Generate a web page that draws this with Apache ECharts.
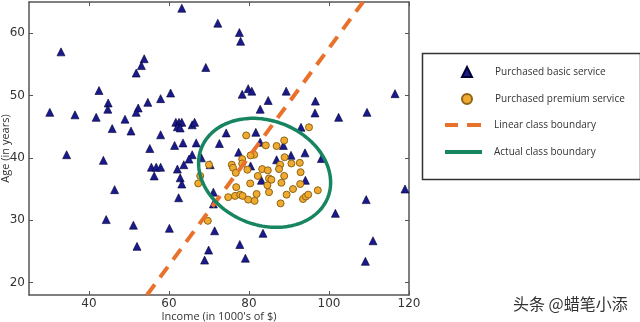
<!DOCTYPE html>
<html>
<head>
<meta charset="utf-8">
<script src="https://cdn.jsdelivr.net/npm/echarts@6/dist/echarts.min.js"></script>
<style>
  html, body { margin: 0; padding: 0; background: #fff; }
  #chart { width: 640px; height: 322px; }
</style>
</head>
<body>
<div id="chart"></div>
<script>
// Customers who bought the basic service: income (k$) and age (years)
const basicIncome = [
  63.2, 72.2, 77.6, 77.9, 33.0, 53.8, 53.1, 51.8, 69.2, 42.5,
  79.8, 80.7, 78.3, 89.3, 116.5, 60.4, 57.9, 44.8, 44.7, 52.3,
  51.8, 54.7, 84.8, 96.6, 82.8, 96.5, 30.2, 36.5, 41.8, 49.0,
  102.4, 109.5, 45.8, 50.5, 57.9, 61.7, 62.5, 63.2, 62.1, 62.8,
  65.8, 66.4, 81.7, 74.3, 93.0, 72.6, 66.8, 63.5, 61.4, 55.2,
  34.4, 65.8, 65.0, 68.1, 77.4, 82.8, 88.6, 86.9, 90.5, 94.0,
  98.1, 43.6, 63.7, 55.6, 56.8, 57.9, 62.1, 56.3, 62.8, 63.2,
  70.3, 80.4, 83.1, 94.1, 46.4, 62.4, 71.1, 71.1, 119.0, 109.3,
  44.3, 51.1, 60.1, 71.4, 83.5, 101.6, 111.0, 52.0, 69.9, 77.7,
  68.9, 79.1, 109.1
];
const basicAge = [
  64.0, 61.6, 60.1, 58.7, 57.0, 55.9, 54.8, 53.6, 54.5, 50.8,
  51.1, 50.7, 50.2, 50.7, 50.3, 50.4, 49.5, 48.8, 47.8, 48.0,
  47.3, 48.9, 49.2, 49.1, 47.8, 47.2, 47.3, 46.9, 46.5, 46.2,
  46.5, 47.3, 44.7, 44.3, 43.7, 45.7, 45.7, 45.7, 45.0, 44.8,
  45.3, 45.7, 44.1, 44.0, 44.9, 42.3, 42.4, 42.4, 42.0, 41.5,
  40.5, 40.5, 39.8, 40.0, 40.9, 42.5, 42.0, 39.7, 40.4, 40.8,
  39.9, 39.6, 38.9, 38.5, 38.5, 38.5, 38.2, 37.1, 36.8, 35.8,
  38.9, 38.7, 36.4, 36.4, 34.9, 33.6, 34.5, 32.6, 35.0, 33.3,
  30.1, 29.2, 28.7, 28.3, 27.9, 31.1, 26.7, 25.8, 25.2, 26.1,
  23.6, 23.9, 23.4
];

// Customers who bought the premium service
const premiumIncome = [
  95.0, 79.3, 88.8, 84.2, 86.9, 81.3, 80.4, 78.3, 88.9, 78.3,
  75.7, 76.0, 87.8, 90.6, 92.7, 79.6, 83.3, 84.7, 87.5, 70.0,
  76.7, 82.2, 85.0, 85.6, 88.8, 92.9, 67.3, 67.8, 80.3, 84.6,
  88.1, 92.8, 76.8, 85.0, 81.9, 89.4, 91.0, 97.2, 74.8, 76.5,
  77.8, 78.4, 79.8, 81.4, 87.9, 93.5, 94.2, 94.8, 69.7
];
const premiumAge = [
  44.9, 43.6, 42.8, 42.0, 41.9, 40.5, 40.4, 39.8, 40.1, 39.1,
  38.9, 38.4, 38.9, 39.1, 39.2, 38.1, 38.2, 38.0, 38.2, 38.9,
  37.6, 37.1, 36.7, 36.5, 37.1, 37.7, 35.9, 37.1, 35.9, 35.6,
  36.0, 35.8, 35.3, 34.5, 34.2, 34.1, 35.0, 34.8, 33.7, 33.9,
  34.1, 33.9, 33.3, 33.1, 32.7, 33.4, 33.8, 34.1, 29.9
];

// Straight decision boundary (end points in data units)
const linearIncome = [54.5, 108.5];
const linearAge = [18, 65];

// True boundary: an ellipse in data units
const ellipseCenter = [83.9, 37.6];   // income, age
const ellipseRadii = [16.6, 8.55];    // semi-axes
const ellipseTiltDeg = -7.3;

// Axis ranges and tick labels
const incomeRange = [25, 120];
const ageRange = [18, 65];
const incomeTicks = [40, 60, 80, 100, 120];
const ageTicks = [20, 30, 40, 50, 60];

const seriesNames = [
  'Purchased basic service',
  'Purchased premium service',
  'Linear class boundary',
  'Actual class boundary'
];

const zip = (xs, ys) => xs.map((x, i) => [x, ys[i]]);

const frameColor = '#555';
const dashColor = '#e8722c';
const ellipseColor = '#17855f';
const tickFont = { color: '#333', fontSize: 12, fontFamily: 'DejaVu Sans' };
const nameFont = { color: '#333', fontSize: 11, fontFamily: 'Open Sans' };
const legendFont = { color: '#333', fontSize: 10, fontFamily: 'Open Sans', padding: [0, 0, 0, 8] };

function frameAxis(extra) {
  return Object.assign({
    type: 'value',
    gridIndex: 0,
    nameMoveOverlap: false,
    axisLine: { show: true, onZero: false, lineStyle: { color: frameColor, width: 1.5 } },
    splitLine: { show: false }
  }, extra);
}

function legendEntry(item, left, top, w, h, textPad) {
  return {
    data: [item], orient: 'vertical', left: left, top: top, padding: 0,
    itemWidth: w, itemHeight: h, selectedMode: false,
    textStyle: Object.assign({}, legendFont, { padding: [0, 0, 0, textPad] })
  };
}

const chart = echarts.init(document.getElementById('chart'), null, { renderer: 'canvas' });

chart.setOption({
  animation: false,
  backgroundColor: '#fff',
  grid: {
    left: 29, top: 2, width: 380, height: 293,
    containLabel: false, outerBoundsMode: 'none'
  },
  xAxis: [
    frameAxis({
      position: 'bottom', min: incomeRange[0], max: incomeRange[1],
      axisTick: { inside: true, length: 4, customValues: incomeTicks, lineStyle: { color: frameColor, width: 1 } },
      axisLabel: Object.assign({ customValues: incomeTicks, margin: 3 }, tickFont),
      name: "Income (in 1000's of $)", nameLocation: 'middle', nameGap: 16,
      nameTextStyle: nameFont
    }),
    frameAxis({
      position: 'top', min: incomeRange[0], max: incomeRange[1],
      axisTick: { inside: true, length: 4, customValues: incomeTicks, lineStyle: { color: frameColor, width: 1 } },
      axisLabel: { show: false }
    })
  ],
  yAxis: [
    frameAxis({
      position: 'left', min: ageRange[0], max: ageRange[1],
      axisTick: { inside: true, length: 4, customValues: ageTicks, lineStyle: { color: frameColor, width: 1 } },
      axisLabel: Object.assign({ customValues: ageTicks, margin: 4 }, tickFont),
      name: 'Age (in years)', nameLocation: 'middle', nameGap: 18, nameRotate: 90,
      nameTextStyle: nameFont
    }),
    frameAxis({
      position: 'right', min: ageRange[0], max: ageRange[1],
      axisTick: { inside: true, length: 4, customValues: ageTicks, lineStyle: { color: frameColor, width: 1 } },
      axisLabel: { show: false }
    })
  ],
  legend: [
    legendEntry(seriesNames[0], 461, 66, 10, 10, 18),
    legendEntry(seriesNames[1], 461, 93, 10, 10, 18),
    legendEntry({ name: seriesNames[2], icon: 'path://M0,0h13v4h-13z M22,0h14v4h-14z' }, 445, 120, 36, 4, 8),
    legendEntry({ name: seriesNames[3], icon: 'rect' }, 445, 147, 37, 4, 7)
  ],
  graphic: [{
    type: 'rect',
    left: 420, top: 51,
    shape: { width: 218, height: 126 },
    style: { fill: 'none', stroke: '#333', lineWidth: 1.5 },
    z: 0
  }, {
    type: 'text',
    left: 513, top: 296,
    style: { text: '头条 @蜡笔小添', fill: '#333', fontSize: 16, fontFamily: 'Noto Sans CJK SC' }
  }],
  series: [
    {
      name: seriesNames[0], type: 'scatter', xAxisIndex: 0, yAxisIndex: 0,
      symbol: 'triangle', symbolSize: 8, symbolKeepAspect: true,
      itemStyle: { color: '#1a1a8c', borderColor: '#000033', borderWidth: 0.6, opacity: 1 },
      data: zip(basicIncome, basicAge), z: 2
    },
    {
      name: seriesNames[1], type: 'scatter', xAxisIndex: 0, yAxisIndex: 0,
      symbol: 'circle', symbolSize: 7,
      itemStyle: { color: '#efaa2f', borderColor: '#8f6414', borderWidth: 1, opacity: 1 },
      data: zip(premiumIncome, premiumAge), z: 3
    },
    {
      name: seriesNames[2], type: 'line', xAxisIndex: 0, yAxisIndex: 0,
      symbol: 'none',
      itemStyle: { color: dashColor },
      lineStyle: { color: dashColor, width: 4, type: [13, 9], cap: 'butt' },
      data: zip(linearIncome, linearAge), z: 4
    },
    {
      name: seriesNames[3], type: 'custom', xAxisIndex: 0, yAxisIndex: 0,
      itemStyle: { color: ellipseColor },
      data: [ellipseCenter], z: 5,
      renderItem: function (params, api) {
        const t = ellipseTiltDeg * Math.PI / 180;
        const cx = api.value(0), cy = api.value(1);
        const pts = [];
        for (let k = 0; k < 180; k++) {
          const u = k / 180 * Math.PI * 2;
          const ex = ellipseRadii[0] * Math.cos(u), ey = ellipseRadii[1] * Math.sin(u);
          pts.push(api.coord([
            cx + ex * Math.cos(t) - ey * Math.sin(t),
            cy + ex * Math.sin(t) + ey * Math.cos(t)
          ]));
        }
        return {
          type: 'polygon',
          shape: { points: pts },
          style: { fill: 'none', stroke: ellipseColor, lineWidth: 3.5 }
        };
      }
    }
  ]
});
</script>
</body>
</html>
